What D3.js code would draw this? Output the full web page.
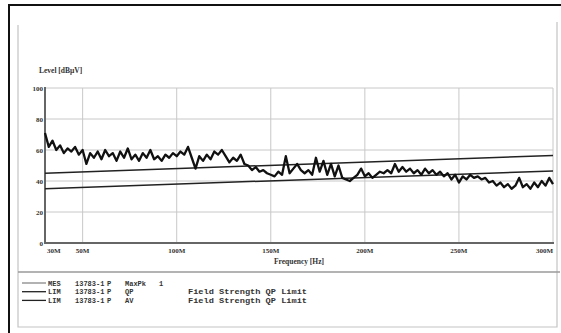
<!DOCTYPE html>
<html>
<head>
<meta charset="utf-8">
<script src="https://cdn.jsdelivr.net/npm/d3@7"></script>
<style>
  body { margin: 0; background: #fff; }
  svg { display: block; }
</style>
</head>
<body>
<div id="chart"></div>
<script>
// frequency axis in MHz, one reading every 2 MHz
var freqStart = 30, freqStep = 2;
var levels = [
  71, 62, 66, 60, 63, 58, 61, 59, 62, 57, 60, 51, 58, 55, 59, 54, 60, 56, 58, 53,
  59, 55, 61, 54, 57, 53, 58, 55, 60, 54, 56, 53, 57, 55, 58, 56, 59, 57, 62, 55,
  48, 56, 53, 57, 54, 59, 57, 60, 56, 52, 55, 53, 57, 51, 50, 47, 49, 46, 47, 45,
  44, 43, 46, 44, 56, 45, 48, 51, 47, 45, 47, 44, 55, 46, 53, 44, 51, 43, 50, 42,
  41, 40, 42, 44, 48, 43, 45, 42, 44, 46, 45, 47, 45, 51, 46, 49, 46, 48, 45, 47,
  44, 48, 45, 47, 44, 46, 43, 45, 41, 44, 39, 43, 41, 44, 42, 43, 41, 42, 39, 40,
  37, 39, 36, 38, 35, 37, 42, 36, 38, 35, 39, 36, 40, 37, 42, 38
];
var limitFreqs = [30, 300];
var limitQP = [45, 56.5];
var limitAV = [35, 46.5];

var yTicks = [0, 20, 40, 60, 80, 100];
var xTicks = [30, 50, 100, 150, 200, 250, 300];
var xTickLabels = ["30M", "50M", "100M", "150M", "200M", "250M", "300M"];

var legendRows = [
  { tag: "MES", id: "13783-1", p: "P", det: "MaxPk", n: "1", name: "" },
  { tag: "LIM", id: "13783-1", p: "P", det: "QP", n: "", name: "Field Strength QP Limit" },
  { tag: "LIM", id: "13783-1", p: "P", det: "AV", n: "", name: "Field Strength QP Limit" }
];

var W = 561, H = 333;
var plot = { left: 45, right: 553, top: 88, bottom: 243 };
var ink = "#333";

var svg = d3.select("#chart").append("svg")
    .attr("width", W)
    .attr("height", H);

// outer frame and panel
svg.append("rect")
    .attr("x", 9).attr("y", 5)
    .attr("width", 560).attr("height", 340)
    .attr("fill", "none").attr("stroke", "#111").attr("stroke-width", 2);

svg.append("path")
    .attr("d", "M18,25 V327 H557 V22")
    .attr("fill", "none").attr("stroke", "#c4c4c4").attr("stroke-width", 1.2);

svg.append("line")
    .attr("x1", 18).attr("x2", 560).attr("y1", 272).attr("y2", 272)
    .attr("stroke", "#9a9a9a").attr("stroke-width", 1.5);

// scales
var x = d3.scaleLinear().domain([30, 300]).range([plot.left, plot.right]);
var y = d3.scaleLinear().domain([0, 100]).range([plot.bottom, plot.top]);

// grid
svg.append("g").selectAll("line")
    .data(yTicks.slice(1))
  .enter().append("line")
    .attr("x1", plot.left).attr("x2", plot.right)
    .attr("y1", function(d) { return y(d); })
    .attr("y2", function(d) { return y(d); })
    .attr("stroke", "#c8c8c8").attr("stroke-width", 1);

svg.append("g").selectAll("line")
    .data(xTicks.slice(1))
  .enter().append("line")
    .attr("x1", function(d) { return x(d); })
    .attr("x2", function(d) { return x(d); })
    .attr("y1", plot.top).attr("y2", plot.bottom)
    .attr("stroke", "#c8c8c8").attr("stroke-width", 1);

// axes lines
svg.append("line")
    .attr("x1", plot.left).attr("x2", plot.left)
    .attr("y1", plot.top - 1).attr("y2", plot.bottom + 1)
    .attr("stroke", "#666").attr("stroke-width", 2);
svg.append("line")
    .attr("x1", plot.left).attr("x2", plot.right + 1)
    .attr("y1", plot.bottom).attr("y2", plot.bottom)
    .attr("stroke", "#666").attr("stroke-width", 2);

// y tick labels
svg.append("g").selectAll("text")
    .data(yTicks)
  .enter().append("text")
    .attr("x", plot.left - 2)
    .attr("y", function(d) { return y(d) + 2.5; })
    .attr("text-anchor", "end")
    .attr("font-family", "Liberation Serif")
    .attr("font-size", 7)
    .attr("font-weight", "bold")
    .attr("fill", ink)
    .text(function(d) { return d; });

// x tick labels
svg.append("g").selectAll("text")
    .data(xTicks)
  .enter().append("text")
    .attr("x", function(d, i) {
      if (i == 0) return x(d) + 2;
      return x(d);
    })
    .attr("y", plot.bottom + 10)
    .attr("text-anchor", function(d, i) {
      if (i == 0) return "start";
      if (i == xTicks.length - 1) return "end";
      return "middle";
    })
    .attr("font-family", "Liberation Serif")
    .attr("font-size", 7)
    .attr("font-weight", "bold")
    .attr("fill", ink)
    .text(function(d, i) { return xTickLabels[i]; });

svg.append("text")
    .attr("x", 39).attr("y", 73)
    .attr("font-family", "Liberation Serif")
    .attr("font-size", 7.5)
    .attr("font-weight", "bold")
    .attr("fill", ink)
    .text("Level [dBµV]");

svg.append("text")
    .attr("x", 299).attr("y", 264)
    .attr("text-anchor", "middle")
    .attr("font-family", "Liberation Serif")
    .attr("font-size", 7.5)
    .attr("font-weight", "bold")
    .attr("fill", ink)
    .text("Frequency [Hz]");

// limit lines
var straight = d3.line()
    .x(function(d, i) { return x(limitFreqs[i]); })
    .y(function(d) { return y(d); });

[limitQP, limitAV].forEach(function(lim) {
  svg.append("path")
      .datum(lim)
      .attr("d", straight)
      .attr("fill", "none")
      .attr("stroke", "#222")
      .attr("stroke-width", 1.5);
});

// measured trace
var trace = d3.line()
    .x(function(d, i) { return x(freqStart + i * freqStep); })
    .y(function(d) { return y(d); });

svg.append("path")
    .datum(levels)
    .attr("d", trace)
    .attr("fill", "none")
    .attr("stroke", "#111")
    .attr("stroke-width", 2.3)
    .attr("stroke-linejoin", "round");

// legend
var leg = svg.append("g").selectAll("g")
    .data(legendRows)
  .enter().append("g")
    .attr("transform", function(d, i) { return "translate(0," + (283 + i * 8.7) + ")"; });

leg.append("line")
    .attr("x1", 22).attr("x2", 46)
    .attr("y1", 0).attr("y2", 0)
    .attr("stroke", function(d, i) { return i == 0 ? "#888" : "#222"; })
    .attr("stroke-width", 1.3);

var cols = [["tag", 48], ["id", 75], ["p", 107], ["det", 125], ["n", 159]];
cols.forEach(function(c) {
  leg.append("text")
      .attr("x", c[1]).attr("y", 2.5)
      .attr("font-family", "Liberation Mono")
      .attr("font-size", 7)
      .attr("font-weight", "bold")
      .attr("fill", ink)
      .text(function(d) { return d[c[0]]; });
});

leg.filter(function(d) { return d.name != ""; })
  .append("text")
    .attr("x", 188).attr("y", 2.5)
    .attr("font-family", "Liberation Mono")
    .attr("font-size", 8)
    .attr("font-weight", "bold")
    .attr("textLength", 119)
    .attr("lengthAdjust", "spacingAndGlyphs")
    .attr("fill", ink)
    .text(function(d) { return d.name; });
</script>
</body>
</html>
